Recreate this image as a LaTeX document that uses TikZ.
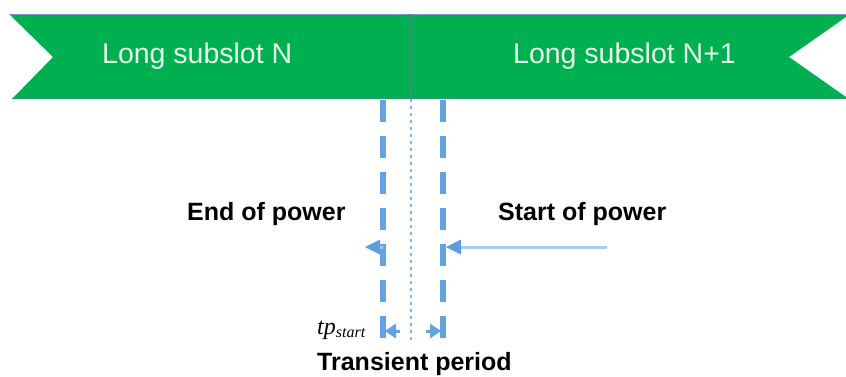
\documentclass[tikz,border=0pt]{standalone}
\usepackage{fontspec}
\setmainfont{Liberation Sans}
\newfontfamily\serifit{Liberation Serif}
\usetikzlibrary{arrows.meta}
\definecolor{bannergreen}{HTML}{00B050}
\definecolor{bannertext}{HTML}{E6FBE8}
\definecolor{topedge}{HTML}{8290C8}
\definecolor{divcol}{HTML}{3C8C80}
\definecolor{dashblue}{HTML}{64A3E0}
\definecolor{dotblue}{HTML}{7DB4EA}
\definecolor{arrowlight}{HTML}{A6CBEE}
\definecolor{arrowdark}{HTML}{5C9DDC}
\tikzset{
  slotlabel/.style={anchor=base west, inner sep=0pt, text=bannertext,
    font=\fontsize{28.5pt}{30pt}\selectfont},
  boldlabel/.style={anchor=base west, inner sep=0pt, text=black,
    font=\fontsize{25pt}{27pt}\selectfont\bfseries},
  dashline/.style={draw=dashblue, line width=6pt, dash pattern=on 22pt off 14pt},
  dotline/.style={draw=dotblue, line width=2.5pt, dash pattern=on 3pt off 4pt},
  powerarrow/.style={draw=arrowlight, line width=3pt,
    -{Triangle[length=15pt,width=15pt,line width=0pt,color=arrowdark]}},
  tparrow/.style={draw=dashblue, line width=3pt,
    -{Triangle[length=11pt,width=15pt,line width=0pt,color=dashblue]}}
}
\begin{document}
\begin{tikzpicture}[x=1pt,y=-1pt]
\useasboundingbox (0,0) rectangle (846,376);
% banner
\fill[bannergreen] (9,14) -- (846,14) -- (846,17) -- (789,57) -- (846,97)
  -- (846,99) -- (12,99) -- (53,57) -- cycle;
\draw[topedge, line width=1.5pt] (9,14.5) -- (846,14.5);
\draw[divcol!70!bannergreen, line width=1.2pt] (12,98.5) -- (846,98.5);
\coordinate (divtop) at (410,14);
\coordinate (divbot) at (410,99);
\draw[divcol, line width=2pt] (divtop) -- (divbot);
\node[slotlabel] (slotN) at (102,63) {Long subslot N};
\node[slotlabel] (slotN1) at (513,63) {Long subslot N+1};
% vertical lines
\coordinate (ltop) at (383,100);
\coordinate (lbot) at (383,340);
\coordinate (rtop) at (443,100);
\coordinate (rbot) at (443,340);
\coordinate (ctop) at (411,99);
\coordinate (cbot) at (411,342);
\draw[dashline] (ltop) -- (lbot);
\draw[dashline] (rtop) -- (rbot);
\draw[dotline] (ctop) -- (cbot);
% power arrows
\node[boldlabel] (eop) at (187,220) {End of power};
\node[boldlabel] (sop) at (498,220) {Start of power};
\coordinate (eopfrom) at (383,247);
\coordinate (eopto) at (365,247);
\draw[powerarrow] (eopfrom) -- (eopto);
\coordinate (sopfrom) at (607,247);
\coordinate (sopto) at (446,247);
\draw[powerarrow] (sopfrom) -- (sopto);
% transient period
\coordinate (tpL0) at (400,331);
\coordinate (tpL) at (385,331);
\coordinate (tpR0) at (426,331);
\coordinate (tpR) at (441,331);
\draw[tparrow] (tpL0) -- (tpL);
\draw[tparrow] (tpR0) -- (tpR);
\node[anchor=base west, inner sep=0pt, text=black] (tp) at (317,334)
  {\serifit\itshape\fontsize{24pt}{26pt}\selectfont tp\raisebox{-3pt}{\fontsize{16pt}{17pt}\selectfont start}};
\node[boldlabel] (tr) at (317,370) {Transient period};
\end{tikzpicture}
\end{document}
